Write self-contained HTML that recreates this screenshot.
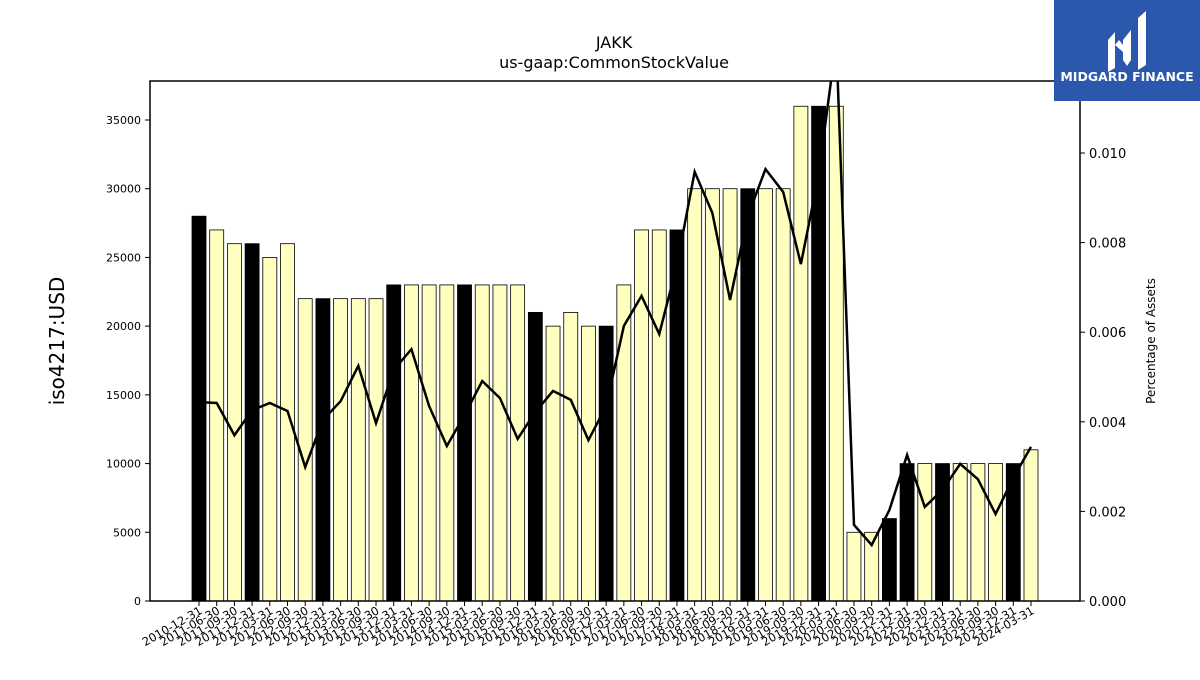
<!DOCTYPE html>
<html><head><meta charset="utf-8"><style>
body{margin:0;background:#fff;}
svg text{font-family:"DejaVu Sans","Liberation Sans",sans-serif;}
</style></head><body>
<svg id="chart" width="1200" height="675" xmlns="http://www.w3.org/2000/svg">
<rect width="1200" height="675" fill="#fff"/>
<text x="614" y="48" text-anchor="middle" font-size="16">JAKK</text>
<text x="614" y="68" text-anchor="middle" font-size="16">us-gaap:CommonStockValue</text>
<text transform="translate(64,341) rotate(-90)" text-anchor="middle" font-size="20">iso4217:USD</text>
<text transform="translate(1155,341) rotate(-90)" text-anchor="middle" font-size="12">Percentage of Assets</text>
<g id="bars"></g>
<g id="line"></g>
<g id="axes"></g>
<rect x="150" y="81" width="930" height="520" fill="none" stroke="#000" stroke-width="1.5"/>
<g>
<rect x="1054" y="0" width="146" height="101" fill="#2b58ad"/>
<path d="M1108 40 L1115 32 L1115 68 L1108 72 Z M1123 40 L1131 30 L1131 60 L1127 66 L1123 60 Z M1138 18 L1146 11 L1146 65 L1138 70 Z M1115 45 L1123 52 L1123 45 L1119 40 Z" fill="#fff"/>
<text x="1127" y="81" text-anchor="middle" font-size="12.5" font-weight="bold" fill="#fff">MIDGARD FINANCE</text>
</g>
</svg>
<script>
const dates=["2010-12-31","2011-06-30","2011-09-30","2011-12-31","2012-03-31","2012-06-30","2012-09-30","2012-12-31","2013-03-31","2013-06-30","2013-09-30","2013-12-31","2014-03-31","2014-06-30","2014-09-30","2014-12-31","2015-03-31","2015-06-30","2015-09-30","2015-12-31","2016-03-31","2016-06-30","2016-09-30","2016-12-31","2017-03-31","2017-06-30","2017-09-30","2017-12-31","2018-03-31","2018-06-30","2018-09-30","2018-12-31","2019-03-31","2019-06-30","2019-09-30","2019-12-31","2020-03-31","2020-06-30","2020-09-30","2020-12-31","2021-12-31","2022-09-30","2022-12-31","2023-03-31","2023-06-30","2023-09-30","2023-12-31","2024-03-31"];
const values=[28000,27000,26000,26000,25000,26000,22000,22000,22000,22000,22000,23000,23000,23000,23000,23000,23000,23000,23000,21000,20000,21000,20000,20000,23000,27000,27000,27000,30000,30000,30000,30000,30000,30000,36000,36000,36000,5000,5000,6000,10000,10000,10000,10000,10000,10000,10000,11000];
const pct=[0.00444,0.00442,0.0037,0.00426,0.00442,0.00424,0.00299,0.00404,0.00446,0.00525,0.00397,0.00516,0.00562,0.00435,0.00346,0.00415,0.00491,0.00453,0.00362,0.00422,0.00469,0.00449,0.00359,0.00435,0.00614,0.00681,0.00596,0.0075,0.00958,0.00866,0.00672,0.00859,0.00964,0.00913,0.00752,0.0095,0.0125,0.0017,0.00125,0.00203,0.00326,0.0021,0.00248,0.00306,0.00272,0.00194,0.00275,0.00344];
const leftTicks=[0,5000,10000,15000,20000,25000,30000,35000];
const rightTicks=[0,0.002,0.004,0.006,0.008,0.010];
const NS="http://www.w3.org/2000/svg";
const x0=199,dx=(1031-199)/47;
const X=i=>x0+i*dx;
const Y=v=>601-v*(481/35000);
const Y2=v=>601-v*(448/0.010);
function mk(t,a,p){const e=document.createElementNS(NS,t);for(const k in a)e.setAttribute(k,a[k]);p.appendChild(e);return e;}
const bars=document.getElementById('bars'),axes=document.getElementById('axes'),line=document.getElementById('line');
values.forEach((v,i)=>{
 const black=dates[i].endsWith("12-31");
 const r=mk('rect',{x:X(i)-7,y:Y(v),width:14,height:601-Y(v),fill:black?'#000':'#ffffbf',stroke:'#000','stroke-width':0.8},bars);
 
 
 const t=mk('line',{x1:X(i),x2:X(i),y1:601,y2:606,stroke:'#000'},axes);
 const lb=mk('text',{transform:`translate(${X(i)+4},${613}) rotate(-30)`,'text-anchor':'end','font-size':11.5},axes);
 lb.textContent=dates[i];
 
 
});
leftTicks.forEach(v=>{
 mk('line',{x1:145,x2:150,y1:Y(v),y2:Y(v),stroke:'#000'},axes);
 const t=mk('text',{x:141,y:Y(v)+4,'text-anchor':'end','font-size':11},axes);
 t.textContent=v;
 
 
});
rightTicks.forEach(v=>{
 mk('line',{x1:1080,x2:1085,y1:Y2(v),y2:Y2(v),stroke:'#000'},axes);
 const t=mk('text',{x:1089,y:Y2(v)+5,'font-size':13},axes);
 t.textContent=v.toFixed(3);
 
 
});
mk('clipPath',{id:'clip'},document.getElementById('chart'));
mk('rect',{x:150,y:81,width:930,height:520},document.getElementById('clip'));
const p=mk('polyline',{points:pct.map((v,i)=>X(i)+','+Y2(v)).join(' '),fill:'none',stroke:'#000','stroke-width':2.5,'clip-path':'url(#clip)'},line);


</script>
</body></html>
